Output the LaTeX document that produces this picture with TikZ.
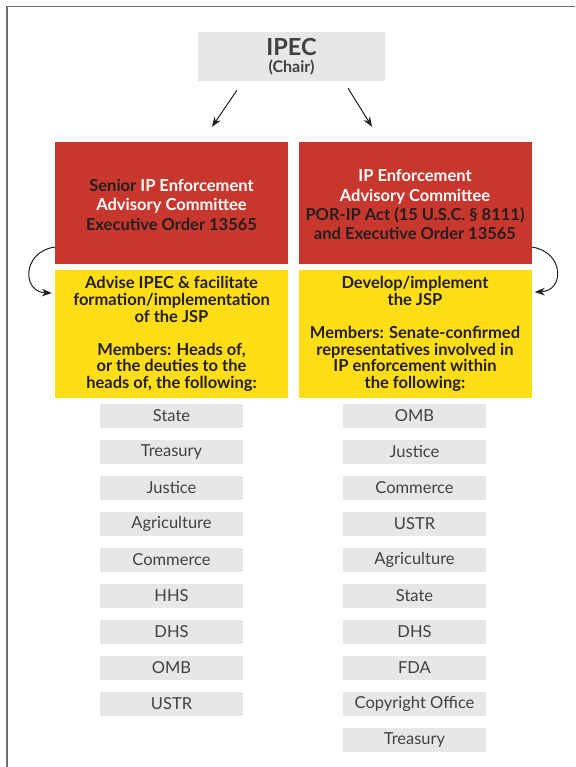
\documentclass[tikz,border=0pt]{standalone}
\usepackage{fontspec}
\setmainfont{Lato}
\usetikzlibrary{arrows.meta}
\definecolor{ipred}{HTML}{C8372D}
\definecolor{ipyellow}{HTML}{FFDE17}
\definecolor{ipgray}{HTML}{E6E7E8}
\definecolor{inkdark}{HTML}{231F20}
\definecolor{inkgray}{HTML}{414042}
\definecolor{framegray}{HTML}{6D6E71}

\begin{document}
\begin{tikzpicture}[x=1pt, y=-1pt,
    every node/.style={inner sep=0pt, align=center},
    redbox/.style={fill=ipred, minimum width=233pt, minimum height=122pt, text=inkdark, font=\bfseries\fontsize{16.5}{19.3}\selectfont},
    yellowbox/.style={fill=ipyellow, minimum width=233pt, minimum height=128pt, text=inkdark, font=\bfseries\fontsize{16.5}{16.6}\selectfont},
    listbox/.style={fill=ipgray, minimum width=143pt, minimum height=24pt, text=inkgray, font=\fontsize{16.5}{17}\selectfont},
    link/.style={draw=inkdark, line width=1pt, -{Stealth[length=10pt,width=7.5pt]}}]
    \useasboundingbox (0,0) rectangle (575,767);
    % Frame
    \draw[framegray, line width=1.3pt] (7,767) -- (7,6.5) -- (575,6.5);
    % Chair
    \node[fill=ipgray, minimum width=187pt, minimum height=49pt, text=inkgray, font=\bfseries] (ipec) at (291.5,56.5)
        {{\fontsize{23.5}{23.5}\selectfont IPEC}\\[3pt]{\fontsize{16}{16}\selectfont (Chair)}};
    % Committees
    \node[redbox] (senior) at (171.5,203) {\rule{0pt}{16pt}Senior \textcolor{white}{IP Enforcement}\\ \textcolor{white}{Advisory Committee}\\ Executive Order 13565};
    \node[redbox] (iprep) at (415,203) {\rule{0pt}{16pt}\textcolor{white}{IP Enforcement}\\ \textcolor{white}{Advisory Committee}\\ POR-IP Act (15 U.S.C. § 8111)\\ and Executive Order 13565};
    \node[yellowbox] (advise) at (171.5,334) {Advise IPEC \& facilitate\\ formation/implementation\\ of the JSP\\[16.6pt] Members: Heads of,\\ or the deuties to the\\ heads of, the following:};
    \node[yellowbox] (develop) at (415,334) {Develop/implement\\ the JSP\\[16.6pt] Members: Senate-confirmed\\ representatives involved in\\ IP enforcement within\\ the following:};
    % Arrows
    \draw[link] ([xshift=-54.5pt,yshift=-9pt]ipec.south) -- ([xshift=40.5pt,yshift=15pt]senior.north);
    \draw[link] ([xshift=56.5pt,yshift=-7pt]ipec.south) -- ([xshift=-43pt,yshift=15pt]iprep.north);
    \draw[link] ([yshift=-44pt]senior.west) .. controls +(-33,5) and +(-30,-1) .. ([xshift=-3pt,yshift=41pt]advise.west);
    \draw[link] ([yshift=-44pt]iprep.east) .. controls +(33,5) and +(30,-1) .. ([xshift=3pt,yshift=42pt]develop.east);
    % Senior committee members
    \node[listbox] (s1) at (171.5,416) {State};
    \node[listbox] (s2) at (171.5,452) {Treasury};
    \node[listbox] (s3) at (171.5,488) {Justice};
    \node[listbox] (s4) at (171.5,524) {Agriculture};
    \node[listbox] (s5) at (171.5,560) {Commerce};
    \node[listbox] (s6) at (171.5,596) {HHS};
    \node[listbox] (s7) at (171.5,632) {DHS};
    \node[listbox] (s8) at (171.5,668) {OMB};
    \node[listbox] (s9) at (171.5,704) {USTR};
    % IP committee members
    \node[listbox] (p1) at (414.5,416) {OMB};
    \node[listbox] (p2) at (414.5,452) {Justice};
    \node[listbox] (p3) at (414.5,488) {Commerce};
    \node[listbox] (p4) at (414.5,524) {USTR};
    \node[listbox] (p5) at (414.5,560) {Agriculture};
    \node[listbox] (p6) at (414.5,596) {State};
    \node[listbox] (p7) at (414.5,632) {DHS};
    \node[listbox] (p8) at (414.5,668) {FDA};
    \node[listbox] (p9) at (414.5,704) {Copyright Office};
    \node[listbox] (p10) at (414.5,740) {Treasury};
\end{tikzpicture}
\end{document}
